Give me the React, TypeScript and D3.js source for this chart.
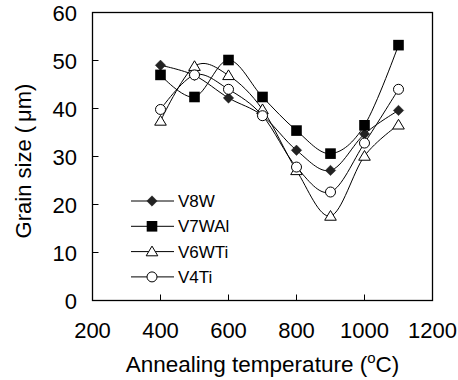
import React from "react";
import * as d3 from "d3";

const temps = [400, 500, 600, 700, 800, 900, 1000, 1100];
const seriesNames = ["V8W", "V7WAl", "V6WTi", "V4Ti"];
const v8w = [49.0, 46.9, 42.2, 38.5, 31.3, 27.1, 34.7, 39.6];
const v7wal = [47.0, 42.4, 50.1, 42.4, 35.4, 30.6, 36.5, 53.2];
const v6wti = [37.4, 48.8, 46.9, 39.8, 27.1, 17.6, 30.1, 36.6];
const v4ti = [39.8, 47.0, 44.0, 38.5, 27.8, 22.6, 32.8, 44.0];
const xTicks = [200, 400, 600, 800, 1000, 1200];
const yTicks = [0, 10, 20, 30, 40, 50, 60];
const markerTypes = ["diamond", "square", "triangle", "circle"];

const FONT = "'Liberation Sans', Arial, sans-serif";

function Marker({ type, x, y }: { type: string; x: number; y: number }) {
  if (type === "diamond") {
    const r = 5.2;
    return <path d={`M${x},${y - r}L${x + r},${y}L${x},${y + r}L${x - r},${y}Z`} fill="#222" stroke="#222" strokeWidth={0.5} />;
  }
  if (type === "square") {
    const s = 5.3;
    return <rect x={x - s} y={y - s} width={2 * s} height={2 * s} fill="#000" />;
  }
  if (type === "triangle") {
    return <path d={`M${x},${y - 5.5}L${x + 5.8},${y + 4.2}L${x - 5.8},${y + 4.2}Z`} fill="#fff" stroke="#000" strokeWidth={1} />;
  }
  return <circle cx={x} cy={y} r={5} fill="#fff" stroke="#000" strokeWidth={1} />;
}

export default function App() {
  const left = 92.5, right = 432.5, top = 12.5, bottom = 300.5;
  const x = d3.scaleLinear().domain([200, 1200]).range([left, right]);
  const y = d3.scaleLinear().domain([0, 60]).range([bottom, top]);
  const allSeries = [v8w, v7wal, v6wti, v4ti];
  const line = d3
    .line<number>()
    .x((_, i) => x(temps[i]))
    .y((d) => y(d))
    .curve(d3.curveCardinal.tension(0));

  const legY0 = 201;
  const legDy = 25.3;

  return (
    <svg width={458} height={380} style={{ position: "absolute", left: 0, top: 0, background: "#fff" }}>
      <rect x={0} y={0} width={458} height={380} fill="#fff" />
      {/* frame */}
      <rect x={left} y={top} width={right - left} height={bottom - top} fill="none" stroke="#000" strokeWidth={1.3} />
      {/* x ticks */}
      {xTicks.slice(1, -1).map((t) => (
        <line key={"xt" + t} x1={x(t)} x2={x(t)} y1={bottom} y2={bottom - 6} stroke="#000" strokeWidth={1} />
      ))}
      {yTicks.slice(1, -1).map((t) => (
        <line key={"yt" + t} x1={left} x2={left + 6} y1={y(t)} y2={y(t)} stroke="#000" strokeWidth={1} />
      ))}
      {xTicks.map((t) => (
        <text key={"xl" + t} x={x(t)} y={338} textAnchor="middle" fontFamily={FONT} fontSize={22} fill="#000">
          {t}
        </text>
      ))}
      {yTicks.map((t) => (
        <text key={"yl" + t} x={77} y={y(t) + 8} textAnchor="end" fontFamily={FONT} fontSize={22} fill="#000">
          {t}
        </text>
      ))}
      <text x={262.5} y={371.5} textAnchor="middle" fontFamily={FONT} fontSize={22.5} fill="#000">
        Annealing temperature (
        <tspan fontSize={15} dy={-9}>o</tspan>
        <tspan dy={9}>C)</tspan>
      </text>
      <text
        transform={`translate(31,161) rotate(-90)`}
        textAnchor="middle"
        fontFamily={FONT}
        fontSize={22}
        fill="#000"
      >
        Grain size (<tspan dx={4}>μm)</tspan>
      </text>
      {/* series */}
      {allSeries.map((s, si) => (
        <g key={"s" + si}>
          <path d={line(s) || ""} fill="none" stroke="#000" strokeWidth={1} />
          {s.map((v, i) => (
            <Marker key={i} type={markerTypes[si]} x={x(temps[i])} y={y(v)} />
          ))}
        </g>
      ))}
      {/* legend */}
      {seriesNames.map((n, i) => (
        <g key={"lg" + n}>
          <line x1={131} x2={174} y1={legY0 + i * legDy} y2={legY0 + i * legDy} stroke="#000" strokeWidth={1} />
          <Marker type={markerTypes[i]} x={152} y={legY0 + i * legDy} />
          <text x={178} y={legY0 + i * legDy + 6} fontFamily={FONT} fontSize={17} fill="#000">
            {n}
          </text>
        </g>
      ))}
    </svg>
  );
}
